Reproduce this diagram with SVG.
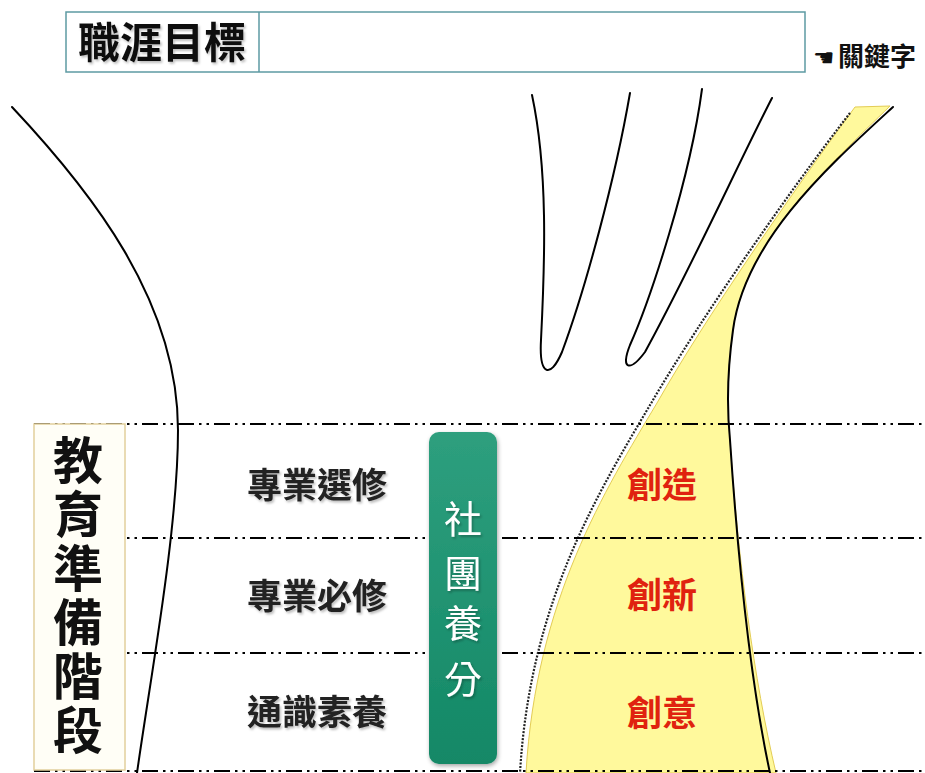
<svg xmlns="http://www.w3.org/2000/svg" width="925" height="773" viewBox="0 0 925 773">
<style>
.cjk{font-family:"Liberation Sans","Noto Sans CJK TC",sans-serif;}
.curve{fill:none;stroke:#000;stroke-width:2;stroke-linecap:round;}
.dashln{fill:none;stroke:#000;stroke-width:2.2;stroke-dasharray:16 5 2.5 5 2.5 5;}
.lbl{font-size:35px;font-weight:bold;fill:#222;text-anchor:middle;}
.red{font-size:35px;font-weight:bold;fill:#e0220f;text-anchor:middle;}
</style>
<defs>
<filter id="sh" x="-10%" y="-10%" width="130%" height="140%">
<feDropShadow dx="1.5" dy="2" stdDeviation="1.2" flood-color="#000" flood-opacity="0.25"/>
</filter>
<filter id="bsh" x="-10%" y="-5%" width="130%" height="110%">
<feDropShadow dx="1" dy="2" stdDeviation="2" flood-color="#000" flood-opacity="0.35"/>
</filter>
<linearGradient id="grn" x1="0" y1="0" x2="0" y2="1">
<stop offset="0" stop-color="#2e9f7e"/>
<stop offset="1" stop-color="#138866"/>
</linearGradient>
</defs>
<rect width="925" height="773" fill="#fff"/>

<g id="shapes">
<path id="yellow-band" d="M855,107 L890,106 C830,165 745,240 733,330 C726,380 728,420 730,440 C738,560 754,680 776,773 L526,773 C536,600 605,490 657,403 C704,320 794,190 855,107 Z" fill="#fff99c" stroke="#e3cc55" stroke-width="1"/>
<path class="curve" d="M12,107 C90,190 178,300 178,430 C178,530 150,680 137,773"/>
<path class="curve" d="M532,95 C548,170 545,260 541,340 C539,375 550,380 562,352 C585,290 615,180 630,93"/>
<path class="curve" d="M702,89 C690,180 650,300 630,345 C620,370 630,372 645,352 C690,270 740,160 772,98"/>
<path class="curve" d="M893,107 C830,165 745,240 733,330 C726,380 728,420 730,440 C738,560 750,680 770,773"/>
<path d="M850,113 C790,190 700,320 653,400 C600,490 530,600 520,773" fill="none" stroke="#222" stroke-width="2.2" stroke-dasharray="2 1.5"/>
</g>

<g id="connectors">
<path class="dashln" d="M34,424 H925"/>
<path class="dashln" d="M34,538 H925"/>
<path class="dashln" d="M34,653 H925"/>
<path class="dashln" d="M34,771 H925"/>
</g>

<g id="career-goal">
<rect x="66" y="12" width="739" height="60" fill="#fff" stroke="#5d9aa3" stroke-width="1.5"/>
<line x1="259" y1="12" x2="259" y2="72" stroke="#5d9aa3" stroke-width="1.5"/>
<text class="cjk" x="162" y="58" font-size="42" font-weight="bold" fill="#111" text-anchor="middle" filter="url(#sh)">職涯目標</text>
</g>

<g id="keyword">
<text x="813" y="66" font-family="DejaVu Sans" font-size="24" fill="#111">☚</text>
<text class="cjk" x="838" y="66" font-size="26" font-weight="bold" fill="#111">關鍵字</text>
</g>

<g id="education-stage">
<rect x="34" y="424" width="91" height="346" fill="#fffef6" stroke="#e2cf9c" stroke-width="1.5"/>
<text class="cjk" font-size="50" font-weight="bold" fill="#111" text-anchor="middle"><tspan x="78" y="479">教</tspan><tspan x="78" y="533">育</tspan><tspan x="78" y="587">準</tspan><tspan x="78" y="641">備</tspan><tspan x="78" y="695">階</tspan><tspan x="78" y="749">段</tspan></text>
</g>

<g id="course-elective">
<text class="cjk lbl" x="317" y="498" filter="url(#sh)">專業選修</text>
</g>
<g id="course-required">
<text class="cjk lbl" x="317" y="609" filter="url(#sh)">專業必修</text>
</g>
<g id="course-general">
<text class="cjk lbl" x="317" y="725" filter="url(#sh)">通識素養</text>
</g>

<g id="club">
<rect x="429" y="432" width="68" height="332" rx="10" fill="url(#grn)" filter="url(#bsh)"/>
<text class="cjk" font-size="38" fill="#fff" text-anchor="middle" filter="url(#sh)"><tspan x="463" y="533">社</tspan><tspan x="463" y="587">團</tspan><tspan x="463" y="637">養</tspan><tspan x="463" y="693">分</tspan></text>
</g>

<g id="create">
<text class="cjk red" x="662" y="498">創造</text>
</g>
<g id="innovate">
<text class="cjk red" x="662" y="608">創新</text>
</g>
<g id="creativity">
<text class="cjk red" x="662" y="726">創意</text>
</g>
</svg>
